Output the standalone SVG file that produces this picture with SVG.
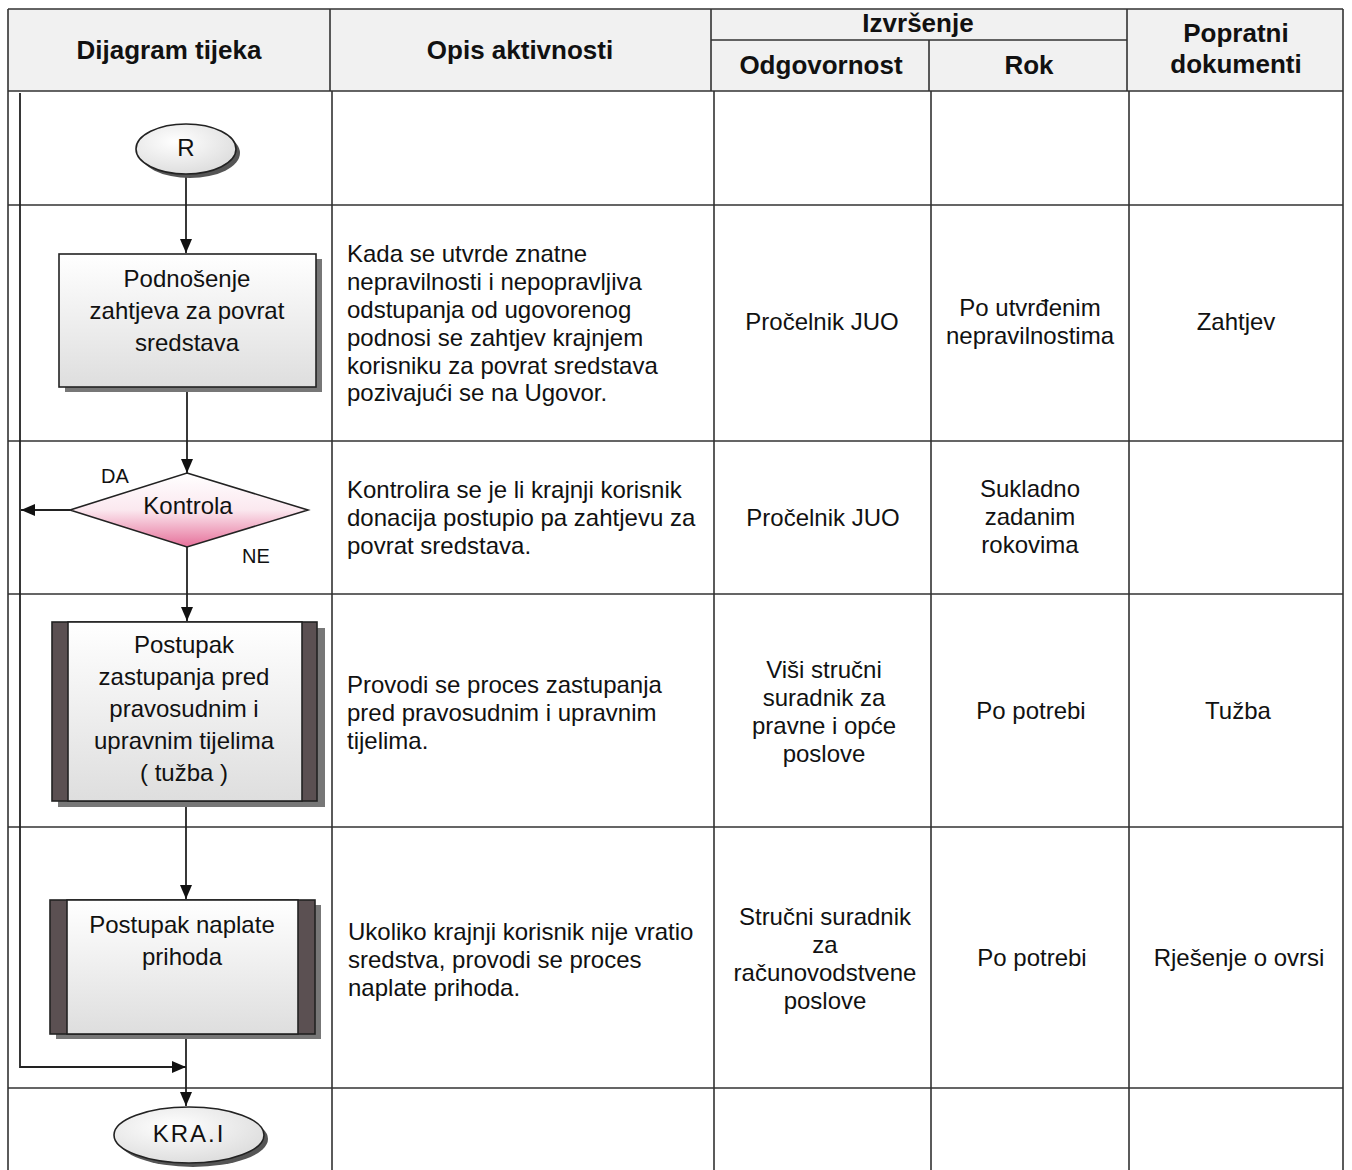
<svg xmlns="http://www.w3.org/2000/svg" width="1352" height="1170" viewBox="0 0 1352 1170">
<style>
.grid{stroke:#333;stroke-width:1.6;fill:none}
.h{font-family:"Liberation Sans",Arial,sans-serif;font-weight:bold;font-size:26px;fill:#111;text-anchor:middle}
.t{font-family:"Liberation Sans",Arial,sans-serif;font-size:24px;fill:#111}
.c{text-anchor:middle}
.s{font-family:"Liberation Sans",Arial,sans-serif;font-size:20px;fill:#111}
.conn{stroke:#222;stroke-width:1.8;fill:none}
.shape{stroke:#222;stroke-width:1.6}
</style>
<defs>
<marker id="ah" viewBox="0 0 14 12" refX="14" refY="6" markerWidth="14" markerHeight="12" markerUnits="userSpaceOnUse" orient="auto">
<path d="M0,0 L14,6 L0,12 Z" fill="#111"/>
</marker>
<linearGradient id="gbox" x1="0" y1="0" x2="0" y2="1">
<stop offset="0" stop-color="#ffffff"/><stop offset="1" stop-color="#dedede"/>
</linearGradient>
<linearGradient id="gdia" x1="0" y1="0" x2="0" y2="1">
<stop offset="0" stop-color="#ffffff"/><stop offset="0.5" stop-color="#fbe8ef"/><stop offset="1" stop-color="#e6709a"/>
</linearGradient>
<radialGradient id="gell" cx="0.4" cy="0.35" r="0.7">
<stop offset="0" stop-color="#ffffff"/><stop offset="1" stop-color="#dcdcdc"/>
</radialGradient>
</defs>
<rect x="0" y="0" width="1352" height="1170" fill="#fff"/>
<g id="table">
<rect x="8" y="9" width="1335" height="82" fill="#f1f1f1"/>
<path class="grid" d="M8,9 H1343 M8,9 V1170 M1343,9 V1170 M8,91 H1343 M711,40 H1127 M330,9 V91 M711,9 V91 M929,40 V91 M1127,9 V91"/>
<path class="grid" d="M8,205 H1343 M8,441 H1343 M8,594 H1343 M8,827 H1343 M8,1088 H1343 M332,91 V1170 M714,91 V1170 M931,91 V1170 M1129,91 V1170"/>
<text class="h" x="169" y="59">Dijagram tijeka</text>
<text class="h" x="520" y="59">Opis aktivnosti</text>
<text class="h" x="918" y="32">Izvršenje</text>
<text class="h" x="821" y="74">Odgovornost</text>
<text class="h" x="1029" y="74">Rok</text>
<text class="h" x="1236" y="42">Popratni</text>
<text class="h" x="1236" y="73">dokumenti</text>
</g>
<g id="connectors">
<path class="conn" d="M186,175 V253" marker-end="url(#ah)"/>
<path class="conn" d="M187,387 V473" marker-end="url(#ah)"/>
<path class="conn" d="M187,547 V621" marker-end="url(#ah)"/>
<path class="conn" d="M186,802 V899" marker-end="url(#ah)"/>
<path class="conn" d="M186,1036 V1106" marker-end="url(#ah)"/>
<path class="conn" d="M70,510 H21" marker-end="url(#ah)"/>
<path class="conn" d="M20,93 V1067 H186" marker-end="url(#ah)"/>
<text class="s" x="115" y="483" text-anchor="middle">DA</text>
<text class="s" x="256" y="563" text-anchor="middle">NE</text>
</g>
<g id="start">
<ellipse cx="190" cy="153" rx="50" ry="25" fill="#555"/>
<ellipse class="shape" cx="186" cy="149" rx="50" ry="25" fill="url(#gell)"/>
<text class="t c" x="186" y="156" font-size="16">R</text>
</g>
<g id="podnosenje">
<rect x="65" y="259" width="257" height="133" fill="#777"/>
<rect class="shape" x="59" y="254" width="257" height="133" fill="url(#gbox)"/>
<text class="t c" x="187" y="287">Podnošenje</text>
<text class="t c" x="187" y="319">zahtjeva za povrat</text>
<text class="t c" x="187" y="351">sredstava</text>
</g>
<g id="kontrola">
<polygon class="shape" points="187,473 308,510 187,547 70,510" fill="url(#gdia)"/>
<text class="t c" x="188" y="514">Kontrola</text>
</g>
<g id="zastupanje">
<rect x="58" y="628" width="267" height="179" fill="#777"/>
<rect class="shape" x="52" y="622" width="265" height="179" fill="#5b5052"/>
<rect class="shape" x="68" y="622" width="234" height="179" fill="url(#gbox)"/>
<text class="t c" x="184" y="653">Postupak</text>
<text class="t c" x="184" y="685">zastupanja pred</text>
<text class="t c" x="184" y="717">pravosudnim i</text>
<text class="t c" x="184" y="749">upravnim tijelima</text>
<text class="t c" x="184" y="781">( tužba )</text>
</g>
<g id="naplata">
<rect x="56" y="905" width="265" height="134" fill="#777"/>
<rect class="shape" x="50" y="900" width="265" height="134" fill="#5b5052"/>
<rect class="shape" x="67" y="900" width="231" height="134" fill="url(#gbox)"/>
<text class="t c" x="182" y="933">Postupak naplate</text>
<text class="t c" x="182" y="965">prihoda</text>
</g>
<g id="kraj">
<ellipse cx="193" cy="1139" rx="75" ry="28" fill="#555"/>
<ellipse class="shape" cx="189" cy="1135" rx="75" ry="28" fill="url(#gell)"/>
<text class="t c" x="189" y="1142" font-size="18" letter-spacing="2">KRA.I</text>
</g>
<g id="texts">
<text class="t" x="347" y="262">Kada se utvrde znatne</text>
<text class="t" x="347" y="290">nepravilnosti i nepopravljiva</text>
<text class="t" x="347" y="318">odstupanja od ugovorenog</text>
<text class="t" x="347" y="346">podnosi se zahtjev krajnjem</text>
<text class="t" x="347" y="374">korisniku za povrat sredstava</text>
<text class="t" x="347" y="401">pozivajući se na Ugovor.</text>
<text class="t c" x="822" y="330">Pročelnik JUO</text>
<text class="t c" x="1030" y="316">Po utvrđenim</text>
<text class="t c" x="1030" y="344">nepravilnostima</text>
<text class="t c" x="1236" y="330">Zahtjev</text>
<text class="t" x="347" y="498">Kontrolira se je li krajnji korisnik</text>
<text class="t" x="347" y="526">donacija postupio pa zahtjevu za</text>
<text class="t" x="347" y="554">povrat sredstava.</text>
<text class="t c" x="823" y="526">Pročelnik JUO</text>
<text class="t c" x="1030" y="497">Sukladno</text>
<text class="t c" x="1030" y="525">zadanim</text>
<text class="t c" x="1030" y="553">rokovima</text>
<text class="t" x="347" y="693">Provodi se proces zastupanja</text>
<text class="t" x="347" y="721">pred pravosudnim i upravnim</text>
<text class="t" x="347" y="749">tijelima.</text>
<text class="t c" x="824" y="678">Viši stručni</text>
<text class="t c" x="824" y="706">suradnik za</text>
<text class="t c" x="824" y="734">pravne i opće</text>
<text class="t c" x="824" y="762">poslove</text>
<text class="t c" x="1031" y="719">Po potrebi</text>
<text class="t c" x="1238" y="719">Tužba</text>
<text class="t" x="348" y="940">Ukoliko krajnji korisnik nije vratio</text>
<text class="t" x="348" y="968">sredstva, provodi se proces</text>
<text class="t" x="348" y="996">naplate prihoda.</text>
<text class="t c" x="825" y="925">Stručni suradnik</text>
<text class="t c" x="825" y="953">za</text>
<text class="t c" x="825" y="981">računovodstvene</text>
<text class="t c" x="825" y="1009">poslove</text>
<text class="t c" x="1032" y="966">Po potrebi</text>
<text class="t c" x="1239" y="966">Rješenje o ovrsi</text>
</g>
</svg>
